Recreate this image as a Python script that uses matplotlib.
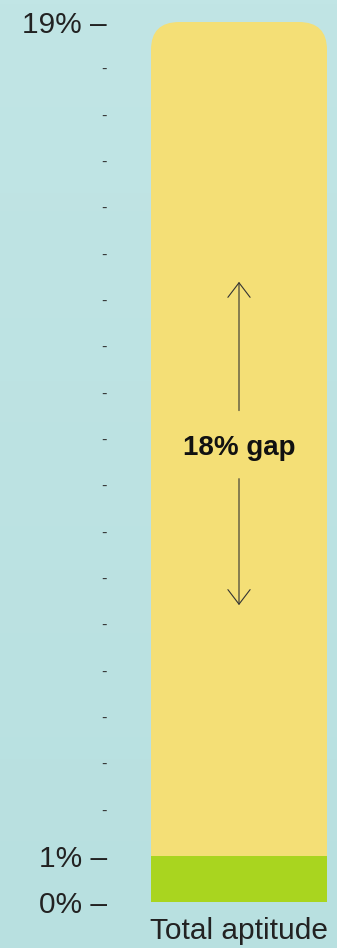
import numpy as np
import matplotlib.pyplot as plt
from matplotlib.patches import FancyBboxPatch

# data
category = ["Total aptitude"]
base_value = [1]
top_value = [19]
gap_label = "18% gap"
major_ticks = [0, 1, 19]
major_labels = ["0% \u2013", "1% \u2013", "19% \u2013"]
minor_ticks = list(range(2, 19))

plt.rcParams['font.family'] = ['Liberation Sans', 'DejaVu Sans']

fig = plt.figure(figsize=(3.37, 9.48), dpi=100)

# soft teal gradient background
bg = fig.add_axes([0, 0, 1, 1], zorder=-10)
grad = np.linspace(0, 1, 256).reshape(-1, 1)
top_c = np.array([193, 229, 229]) / 255
bot_c = np.array([184, 224, 224]) / 255
img = top_c * (1 - grad[..., None]) + bot_c * grad[..., None]
bg.imshow(np.repeat(img, 2, axis=1), aspect='auto', extent=[0, 1, 0, 1])
bg.axis('off')

ax = fig.add_axes([151 / 337, 46 / 948, 176 / 337, 880 / 948])
ax.set_facecolor('none')
ax.set_xlim(-0.5, 0.5)
ax.set_ylim(0, 19)

x = np.arange(len(category))
yellow = ax.bar(x, np.array(top_value) - np.array(base_value), bottom=base_value,
                width=1.0, color='#F4DF76', zorder=2)
ax.bar(x, base_value, width=1.0, color='#A9D51F', zorder=3)

# round only the top corners of the yellow bar
clip = FancyBboxPatch((-0.5, base_value[0] - 1), 1.0, top_value[0] - base_value[0] + 1,
                      boxstyle="round,pad=0,rounding_size=0.16",
                      mutation_aspect=3.75, transform=ax.transData,
                      facecolor='none', edgecolor='none')
ax.add_patch(clip)
for r in yellow:
    r.set_clip_path(clip)

# gap annotation
mid = (top_value[0] + base_value[0]) / 2
ax.text(0, mid - 0.2, gap_label, ha='center', va='center', fontsize=20,
        fontweight='bold', color='#111111', zorder=5)
arrow = dict(arrowstyle='->,head_length=1.05,head_width=0.8', color='#333333', lw=0.8)
ax.annotate('', xy=(0, 13.45), xytext=(0, 10.55), arrowprops=arrow, zorder=5)
ax.annotate('', xy=(0, 6.35), xytext=(0, 9.2), arrowprops=arrow, zorder=5)

# axes styling
for s in ax.spines.values():
    s.set_visible(False)
ax.set_yticks(major_ticks)
ax.set_yticklabels(major_labels, fontsize=21.5, color='#222222')
ax.set_yticks(minor_ticks, minor=True)
ax.set_yticklabels(['-'] * len(minor_ticks), minor=True, fontsize=12, color='#333333')
ax.tick_params(axis='y', which='both', length=0, pad=31.5)
ax.set_xticks(x)
ax.set_xticklabels(category, fontsize=21.5, color='#222222')
ax.tick_params(axis='x', length=0, pad=11)

fig.savefig('out.png', dpi=100)
